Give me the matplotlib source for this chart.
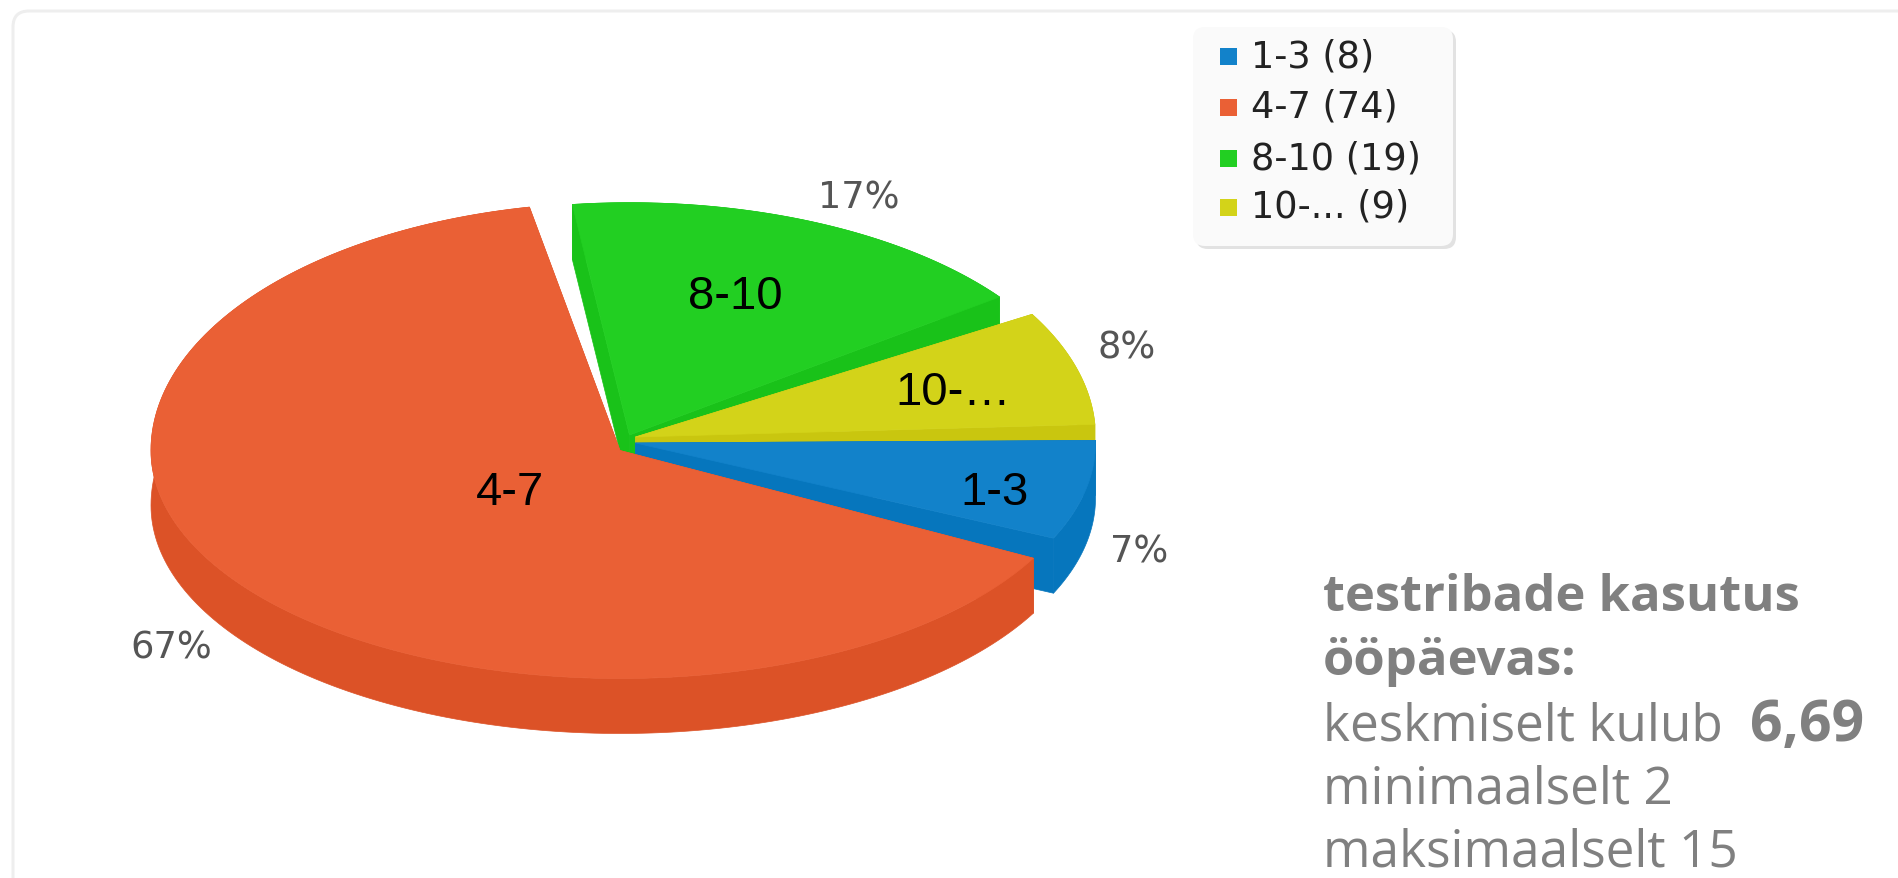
import numpy as np
import matplotlib
matplotlib.use('Agg')
import matplotlib.pyplot as plt
from matplotlib.patches import FancyBboxPatch, Polygon, Rectangle

# data
categories = ['1-3', '4-7', '8-10', '10-…']
legend_names = ['1-3', '4-7', '8-10', '10-...']
counts = [8, 74, 19, 9]
colors = ['#1282ca', '#ea6035', '#22cf22', '#d3d319']
side_colors = ['#0676bd', '#dc5227', '#19c219', '#c9c60f']

heading_lines = ['testribade kasutus', 'ööpäevas:']
average_text = 'keskmiselt kulub'
average_value = '6,69'
other_lines = ['minimaalselt 2', 'maksimaalselt 15']

# layout, pixels of the 1898x879 picture
W, H = 1898, 879
centers = [(635.5, 444), (620, 451.5), (629.5, 436), (635.5, 438)]
radii = [460, 469, 460, 460]
# corrections of the slice edges, the old 3d renderer is not a true ellipse
edge_adjust = [(-0.6, -1.5), (2, -9.5), (-5.5, -7), (-1, -3)]
ry_up, ry_down = 242, 228
ry_up_scale = [1, 1.025, 0.96, 1]
depth = 55
green_clip_top = 203
inner_pos = [(995, 493), (510, 493), (735, 297), (953, 393)]
pct_pos = [(1139, 552), (171, 648), (859, 198), (1127, 348)]
legend_rows = [57, 108, 159, 208]
draw_order = [2, 3, 0, 1]

fig = plt.figure(figsize=(W / 100, H / 100), dpi=100, facecolor='white')
ax = fig.add_axes([0, 0, 1, 1])
ax.set_xlim(0, W)
ax.set_ylim(H, 0)
ax.axis('off')

# outer card, runs off the right and the bottom
ax.add_patch(FancyBboxPatch((13, 12), W + 60, H + 60, boxstyle='round,pad=0,rounding_size=16',
                            fc='white', ec='#eeeeee', lw=2.2))


def ring_point(cx, cy, rx, t, up_scale):
    s = np.sin(t)
    ry = np.where(s > 0, ry_down, ry_up * up_scale)
    return cx + rx * np.cos(t), cy + ry * s


# cumulative angles start at the 3 o'clock edge of the blue slice, clockwise
total = sum(counts)
spans = 360 * np.array(counts) / total
starts = np.concatenate([[0], np.cumsum(spans)[:-1]])

for i in draw_order:
    cx, cy = centers[i]
    t = np.radians(np.linspace(starts[i] + edge_adjust[i][0], starts[i] + spans[i] + edge_adjust[i][1], 200))
    x, y = ring_point(cx, cy, radii[i], t, ry_up_scale[i])
    face = np.column_stack([np.r_[cx, x], np.r_[cy, y]])
    shifted = face + [0, depth]

    parts = []
    parts.append(Polygon([face[0], face[1], shifted[1], shifted[0]], fc=side_colors[i], ec=side_colors[i], lw=0.5))
    parts.append(Polygon([face[0], face[-1], shifted[-1], shifted[0]], fc=side_colors[i], ec=side_colors[i], lw=0.5))
    parts.append(Polygon(np.vstack([face[1:], shifted[1:][::-1]]), fc=side_colors[i], ec=side_colors[i], lw=0.5))
    parts.append(Polygon(face, fc=colors[i], ec=colors[i], lw=0.5))
    for p in parts:
        ax.add_patch(p)
        if categories[i] == '8-10':
            # the original image cuts the green slice off at the top
            p.set_clip_path(Rectangle((0, green_clip_top), W, H, transform=ax.transData))

# labels on and around the slices
for i in range(len(counts)):
    ax.text(inner_pos[i][0], inner_pos[i][1], categories[i], family='Liberation Sans', fontsize=34,
            color='black', ha='center', va='center')
    pct = '%d%%' % round(100 * counts[i] / total)
    ax.text(pct_pos[i][0], pct_pos[i][1], pct, family='DejaVu Sans', fontsize=26.5,
            color='#555555', ha='center', va='center')

# legend box
ax.add_patch(FancyBboxPatch((1196, 31), 260, 219, boxstyle='round,pad=0,rounding_size=12', fc='#e2e2e2', ec='none'))
ax.add_patch(FancyBboxPatch((1193, 28), 260, 219, boxstyle='round,pad=0,rounding_size=12', fc='#fafafa', ec='none'))
for i in range(len(counts)):
    row = legend_rows[i]
    ax.add_patch(Rectangle((1220, row - 8), 17, 17, fc=colors[i], ec='none'))
    ax.text(1251, row + 10, '%s (%d)' % (legend_names[i], counts[i]), family='DejaVu Sans', fontsize=26.5,
            color='#222222', ha='left', va='baseline')

# note on the right
note_font = 'Open Sans'
note_color = '#808080'
ax.text(1323, 611, heading_lines[0], family=note_font, fontsize=36.5, fontweight='bold', color=note_color)
ax.text(1323, 675, heading_lines[1], family=note_font, fontsize=36.5, fontweight='bold', color=note_color)
ax.text(1323, 741, average_text, family=note_font, fontsize=37, color=note_color)
ax.text(1750, 741, average_value, family=note_font, fontsize=41, fontweight='bold', color=note_color)
ax.text(1323, 804, other_lines[0], family=note_font, fontsize=37, color=note_color)
ax.text(1323, 867, other_lines[1], family=note_font, fontsize=37, color=note_color)

fig.savefig('out.png', dpi=100)
